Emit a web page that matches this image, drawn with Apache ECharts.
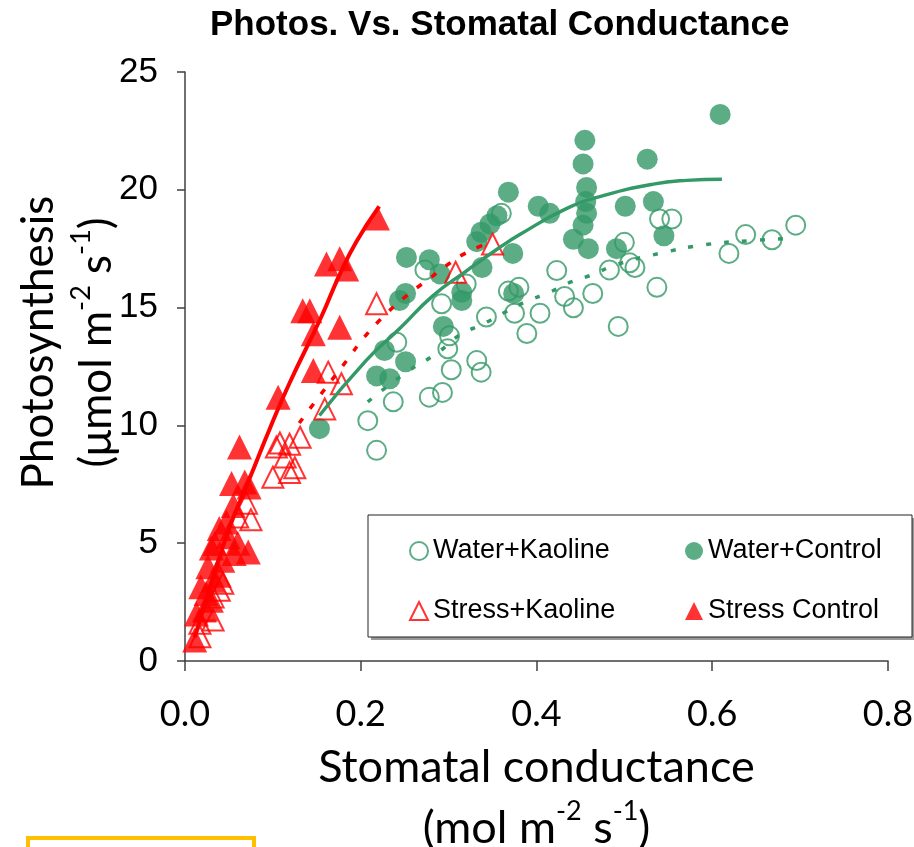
<!DOCTYPE html>
<html><head><meta charset="utf-8">
<script src="https://cdn.jsdelivr.net/npm/echarts@6/dist/echarts.min.js"></script>
<style>html,body{margin:0;padding:0;background:#fff}#c{width:914px;height:847px}</style>
</head><body><div id="c"></div>
<script>
// ---- data ----
const xTickValues = [0.0, 0.2, 0.4, 0.6, 0.8];
const yTickValues = [0, 5, 10, 15, 20, 25];

const waterKaoline = [
 [0.695,18.5],[0.668,17.88],[0.638,18.1],[0.619,17.3],[0.540,18.76],[0.554,18.76],[0.500,17.77],
 [0.512,16.7],[0.506,16.9],[0.483,16.6],[0.537,15.86],[0.423,16.57],[0.464,15.6],[0.432,15.47],
 [0.442,14.99],[0.404,14.76],[0.493,14.2],[0.389,13.9],[0.375,14.76],[0.380,15.86],[0.368,15.7],
 [0.343,14.6],[0.292,15.16],[0.320,16.0],[0.301,13.8],[0.299,13.25],[0.273,16.6],[0.360,19.0],
 [0.241,13.53],[0.303,12.36],[0.332,12.75],[0.337,12.26],[0.278,11.2],[0.293,11.4],[0.237,11.0],
 [0.208,10.2],[0.218,8.94]
];
const waterControl = [
 [0.609,23.2],[0.455,22.1],[0.453,21.1],[0.526,21.3],[0.368,19.9],[0.457,20.1],[0.456,19.5],
 [0.457,19.0],[0.453,18.5],[0.442,17.9],[0.459,17.5],[0.402,19.3],[0.415,19.0],[0.501,19.3],
 [0.533,19.5],[0.545,18.05],[0.491,17.5],[0.355,18.9],[0.347,18.55],[0.337,18.2],[0.332,17.8],
 [0.373,17.3],[0.338,16.7],[0.252,17.13],[0.278,17.03],[0.290,16.43],[0.315,15.65],[0.315,15.3],
 [0.244,15.3],[0.251,15.6],[0.294,14.2],[0.227,13.18],[0.251,12.7],[0.218,12.1],[0.233,11.98],
 [0.153,9.86],[0.374,15.6]
];
const stressKaoline = [
 [0.350,17.7],[0.308,16.5],[0.218,15.16],[0.163,12.26],[0.178,11.77],[0.159,10.7],[0.131,9.5],
 [0.108,9.25],[0.119,9.2],[0.114,8.66],[0.125,8.2],[0.100,7.8],[0.119,8.0],[0.104,9.08],
 [0.070,6.7],[0.075,6.0],[0.060,6.11],[0.043,3.3],[0.039,3.0],[0.032,2.72],[0.024,2.16],
 [0.017,1.6],[0.032,1.74],[0.017,1.03]
];
const stressControl = [
 [0.219,18.8],[0.161,16.85],[0.176,17.07],[0.184,16.64],[0.134,14.87],[0.142,14.87],[0.146,13.89],
 [0.176,14.17],[0.146,12.33],[0.106,11.2],[0.062,9.08],[0.053,7.53],[0.068,7.6],[0.073,7.39],
 [0.055,6.6],[0.039,5.62],[0.049,5.27],[0.034,4.99],[0.072,4.63],[0.056,4.56],[0.043,4.28],
 [0.026,4.0],[0.032,3.43],[0.039,3.64],[0.018,3.15],[0.024,2.87],[0.030,2.58],[0.022,2.16],
 [0.013,2.0],[0.011,0.89],[0.047,5.9],[0.060,5.0],[0.030,4.8]
];
// trendlines
const waterKaolineTrend = [
 [0.208,11.0],[0.250,12.2],[0.288,13.1],[0.313,13.85],[0.339,14.3],[0.364,14.8],[0.389,15.27],
 [0.415,15.65],[0.440,16.1],[0.464,16.4],[0.489,16.8],[0.540,17.3],[0.592,17.67],[0.643,17.84],[0.695,17.95]
];
const waterControlTrend = [
 [0.153,10.42],[0.206,12.75],[0.244,14.1],[0.282,15.5],[0.320,16.55],[0.358,17.55],[0.381,18.1],
 [0.434,19.2],[0.476,19.75],[0.533,20.24],[0.571,20.4],[0.611,20.45]
];
const stressKaolineTrend = [
 [0.130,10.1],[0.146,10.9],[0.184,12.75],[0.204,13.74],[0.227,14.66],[0.251,15.47],[0.277,16.2],
 [0.300,16.85],[0.324,17.4],[0.350,17.8]
];
const stressControlTrend = [
 [0.011,1.0],[0.030,3.3],[0.050,5.6],[0.073,7.7],[0.098,10.0],[0.119,11.8],[0.155,14.6],
 [0.176,16.4],[0.195,17.8],[0.221,19.3]
];

const GREEN = '#339966', RED = '#FF0000';
const chart = echarts.init(document.getElementById('c'), null, {renderer:'canvas'});
const supStyle = (fs) => ({fontFamily:'Lato', fontSize:fs, verticalAlign:'top', color:'#000'});

const legendText = {fontFamily:'Liberation Sans', fontSize:27, lineHeight:30, color:'#000'};

chart.setOption({
  animation:false,
  backgroundColor:'#fff',
  title:{text:'Photos. Vs. Stomatal Conductance', left:205, top:3,
    textStyle:{fontFamily:'Liberation Sans', fontWeight:'bold', fontSize:35, color:'#000'}},
  grid:{left:185, right:26, top:72, bottom:186, containLabel:false, outerBoundsMode:'none'},
  legend:[
    {data:['Water+Kaoline','Stress+Kaoline'], orient:'vertical', left:404, top:531,
     itemWidth:18, itemHeight:18, itemGap:30, textStyle:legendText, selectedMode:false},
    {data:['Water+Control','Stress Control'], orient:'vertical', left:680, top:531,
     itemWidth:18, itemHeight:18, itemGap:30, textStyle:legendText, selectedMode:false}
  ],
  xAxis:{type:'value', min:xTickValues[0], max:xTickValues[xTickValues.length-1], interval:0.2,
    splitLine:{show:false},
    axisLine:{show:true, lineStyle:{color:'#404040', width:1.5}},
    axisTick:{show:true, length:10, lineStyle:{color:'#404040', width:1.5}},
    axisLabel:{formatter:v=>v.toFixed(1), fontFamily:'Lato', fontSize:36, color:'#000', margin:35,
      showMinLabel:true, showMaxLabel:true},
    name:'Stomatal conductance\n(mol m{sup|-2} s{sup|-1})',
    nameLocation:'middle', nameGap:74,
    nameTextStyle:{fontFamily:'Lato', fontSize:45, lineHeight:61, color:'#000', rich:{sup:supStyle(27)}}
  },
  yAxis:{type:'value', min:yTickValues[0], max:yTickValues[yTickValues.length-1], interval:5,
    splitLine:{show:false},
    axisLine:{show:true, lineStyle:{color:'#404040', width:1.5}},
    axisTick:{show:true, length:8, lineStyle:{color:'#404040', width:1.5}},
    axisLabel:{fontFamily:'Liberation Sans', fontSize:35, color:'#000', margin:27},
    name:'Photosynthesis\n(μmol m{sup|-2} s{sup|-1})',
    nameLocation:'middle', nameRotate:90, nameGap:59, nameMoveOverlap:false,
    nameTextStyle:{fontFamily:'Lato', fontSize:44, lineHeight:58, color:'#000', padding:[0,0,0,48],
      rich:{sup:supStyle(27)}}
  },
  graphic:[
    {type:'rect', shape:{x:371, y:518, width:544, height:122}, style:{fill:'#999', stroke:null}, z:-2, silent:true},
    {type:'rect', shape:{x:368, y:515, width:544, height:122}, style:{fill:'#fff', stroke:'#222', lineWidth:1}, z:-1, silent:true},
    {type:'rect', shape:{x:28, y:838, width:226, height:20}, style:{fill:'none', stroke:'#FFC000', lineWidth:4}, silent:true}
  ],
  series:[
    {name:'Water+Kaoline', type:'scatter', data:waterKaoline, symbol:'circle', symbolSize:19, z:2,
     itemStyle:{color:'rgba(255,255,255,0)', borderColor:GREEN, borderWidth:2}},
    {name:'Water+Control', type:'scatter', data:waterControl, symbol:'circle', symbolSize:21, z:2,
     itemStyle:{color:GREEN}},
    {name:'Stress+Kaoline', type:'scatter', data:stressKaoline, symbol:'triangle', symbolSize:21, z:2,
     itemStyle:{color:'rgba(255,255,255,0)', borderColor:RED, borderWidth:2}},
    {name:'Stress Control', type:'scatter', data:stressControl, symbol:'triangle', symbolSize:25, z:2,
     itemStyle:{color:RED}},
    {name:'wk trend', type:'line', data:waterKaolineTrend, smooth:true, symbol:'none', z:3,
     lineStyle:{color:GREEN, width:3.5, type:[5,13]}},
    {name:'wc trend', type:'line', data:waterControlTrend, smooth:true, symbol:'none', z:3,
     lineStyle:{color:GREEN, width:3.5}},
    {name:'sk trend', type:'line', data:stressKaolineTrend, smooth:true, symbol:'none', z:3,
     lineStyle:{color:RED, width:3.5, type:[6,12]}},
    {name:'sc trend', type:'line', data:stressControlTrend, smooth:true, symbol:'none', z:3,
     lineStyle:{color:RED, width:4}}
  ]
});
</script></body></html>
